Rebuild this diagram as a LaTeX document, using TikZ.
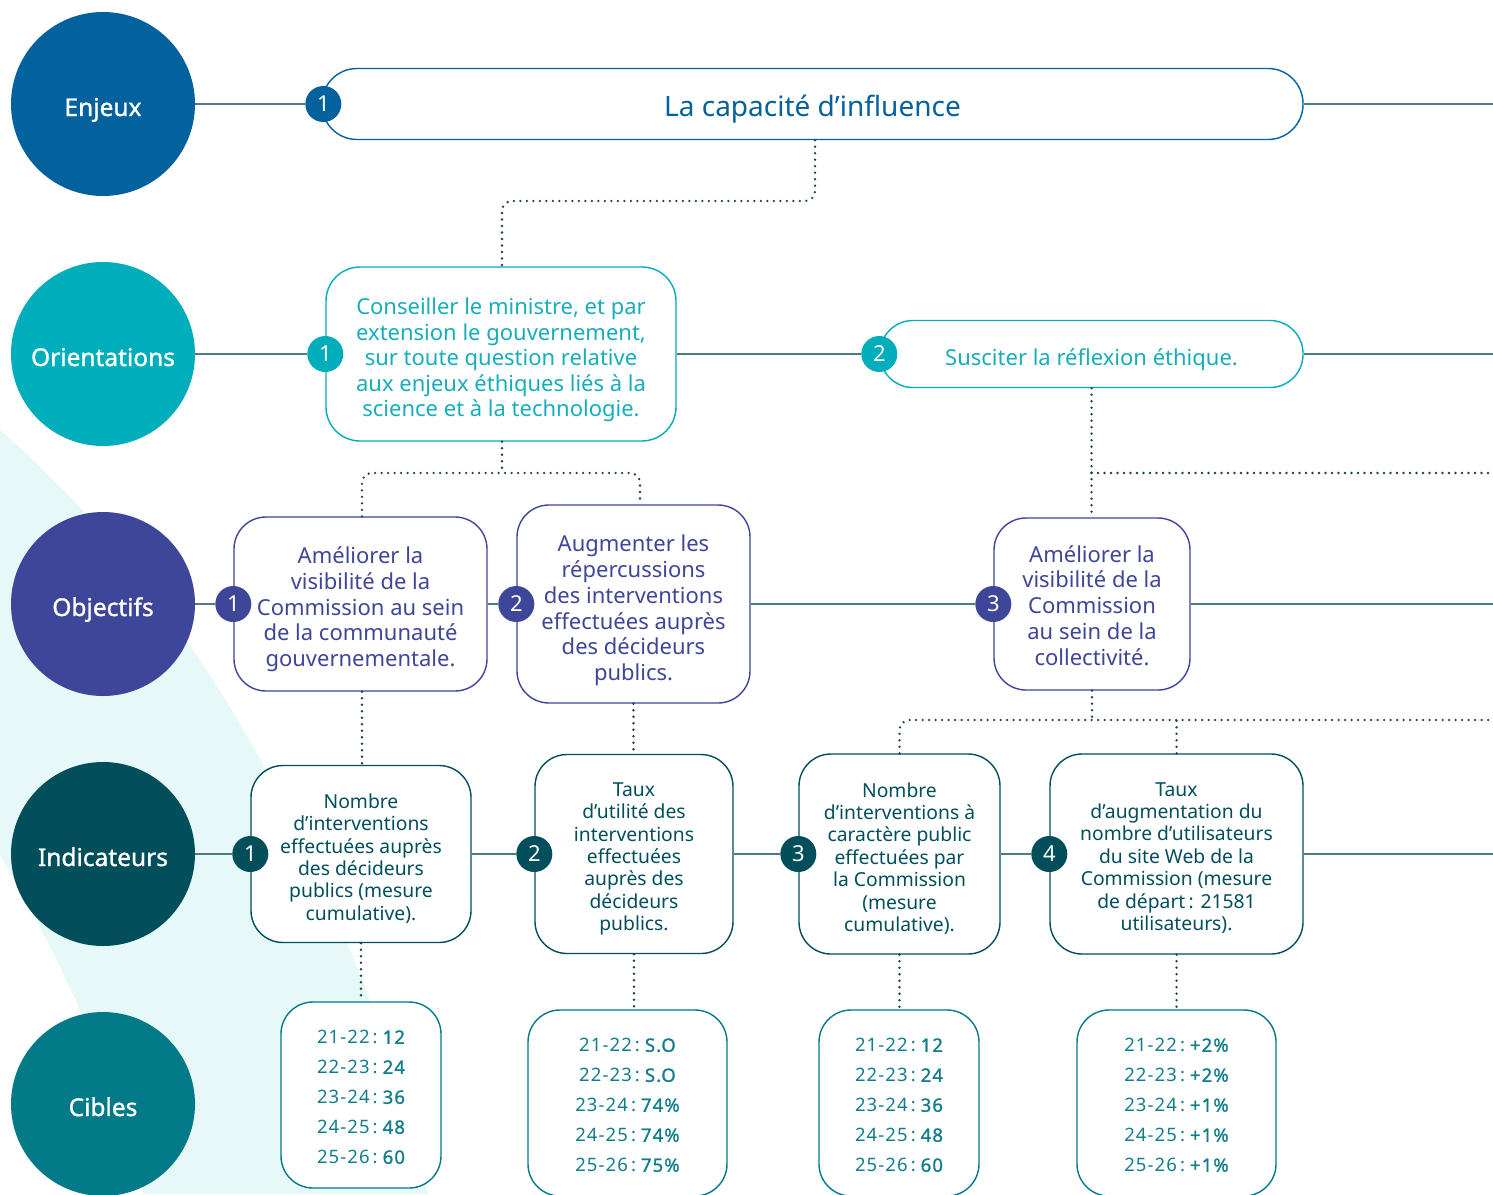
\documentclass[tikz,border=0pt]{standalone}
\usepackage{fontspec}
\setmainfont{Noto Sans}
\newfontfamily\medfont{Noto Sans}[FakeBold=1.2]
\newfontfamily\cibregfont{Noto Sans}[LetterSpace=6]
\newfontfamily\cibboldfont{Noto Sans}[FakeBold=1.2,LetterSpace=6]
\definecolor{cenj}{HTML}{03629E}
\definecolor{cori}{HTML}{00ADBB}
\definecolor{tori}{HTML}{16AEBB}
\definecolor{cobj}{HTML}{3E469A}
\definecolor{cind}{HTML}{024F5B}
\definecolor{ccib}{HTML}{027A88}
\definecolor{tcib}{HTML}{137E8B}
\definecolor{hline}{HTML}{4F7B80}
\definecolor{dotc}{HTML}{1B424B}
\definecolor{band}{HTML}{E6F8F8}
\newcommand\cibv[2]{#1\kern3pt:\kern5pt{\cibboldfont #2}}
\newcommand\topstrut[1]{\rule{0pt}{\dimexpr0.8em+#1pt\relax}}
\begin{document}
\begin{tikzpicture}[x=1pt,y=-1pt,
  cat/.style={circle,minimum size=184pt,inner sep=0pt,text=white,text height=24pt,text depth=0pt,font=\medfont\fontsize{24.5}{28}\selectfont},
  badge/.style={circle,minimum size=36pt,inner sep=0pt,text=white,font=\fontsize{22}{24}\selectfont},
  card/.style={draw,fill=white,line width=1.4pt,align=center,inner sep=0pt},
  enjfont/.style={font=\fontsize{28}{32}\selectfont},
  orifont/.style={font=\fontsize{22}{25.5}\selectfont},
  objfont/.style={font=\fontsize{22}{25.75}\selectfont},
  indfont/.style={font=\fontsize{19.3}{22.4}\selectfont},
  cibfont/.style={font=\cibregfont\fontsize{18.5}{30}\selectfont},
  conn/.style={draw=hline,line width=1.6pt},
  dotline/.style={draw=dotc,line width=2.6pt,line cap=round,dash pattern=on 0pt off 6.5pt,rounded corners=10pt},
]
\useasboundingbox (0,0) rectangle (1493,1194);
\clip (0,0) rectangle (1493,1194);
\fill[band] (0,430) .. controls (150,560) and (330,800) .. (428,1194) -- (143,1194) .. controls (110,1060) and (60,960) .. (0,855) -- cycle;
\coordinate (edge) at (1493,0);

% Row 1: Enjeux
\node[cat,fill=cenj] (cEnj) at (103,104) {Enjeux};
\node[card,draw=cenj,text=cenj,enjfont,minimum width=981pt,minimum height=71pt,rounded corners=35pt] (e1) at (812.5,104) {\topstrut{10}La capacité d’influence};
\node[badge,fill=cenj] (be1) at ([xshift=2pt]e1.west) {1};

% Row 2: Orientations
\node[cat,fill=cori] (cOri) at (103,354) {Orientations};
\node[card,draw=cori,text=tori,orifont,minimum width=350pt,minimum height=174pt,rounded corners=34pt] (o1) at (501,354) {\topstrut{11}Conseiller le ministre, et par\\extension le gouvernement,\\sur toute question relative\\aux enjeux éthiques liés à la\\science et à la technologie.};
\node[badge,fill=cori] (bo1) at (o1.west) {1};
\node[card,draw=cori,text=tori,orifont,minimum width=423pt,minimum height=67pt,rounded corners=33pt] (o2) at (1091.5,354) {\topstrut{11}Susciter la réflexion éthique.};
\node[badge,fill=cori] (bo2) at (o2.west) {2};

% Row 3: Objectifs
\node[cat,fill=cobj] (cObj) at (103,604) {Objectifs};
\node[card,draw=cobj,text=cobj,objfont,minimum width=253pt,minimum height=174pt,rounded corners=32pt] (b1) at (360.5,604) {\topstrut{10}Améliorer la\\visibilité de la\\Commission au sein\\de la communauté\\gouvernementale.};
\node[badge,fill=cobj] (bb1) at (b1.west) {1};
\node[card,draw=cobj,text=cobj,objfont,minimum width=233pt,minimum height=198pt,rounded corners=32pt] (b2) at (633.5,604) {\topstrut{12}Augmenter les\\répercussions\\des interventions\\effectuées auprès\\des décideurs\\publics.};
\node[badge,fill=cobj] (bb2) at (b2.west) {2};
\node[card,draw=cobj,text=cobj,objfont,minimum width=196pt,minimum height=172pt,rounded corners=32pt] (b3) at (1092,604) {\topstrut{2}Améliorer la\\visibilité de la\\Commission\\au sein de la\\collectivité.};
\node[badge,fill=cobj] (bb3) at (b3.west) {3};

% Row 4: Indicateurs
\node[cat,fill=cind] (cInd) at (103,854) {Indicateurs};
\node[card,draw=cind,text=cind,indfont,minimum width=220pt,minimum height=177pt,rounded corners=32pt] (i1) at (361,854) {\topstrut{8}Nombre\\d’interventions\\effectuées auprès\\des décideurs\\publics (mesure\\cumulative).};
\node[badge,fill=cind] (bi1) at (i1.west) {1};
\node[card,draw=cind,text=cind,indfont,minimum width=198pt,minimum height=199pt,rounded corners=32pt] (i2) at (634,854) {\topstrut{8}Taux\\d’utilité des\\interventions\\effectuées\\auprès des\\décideurs\\publics.};
\node[badge,fill=cind] (bi2) at (i2.west) {2};
\node[card,draw=cind,text=cind,indfont,minimum width=201pt,minimum height=200pt,rounded corners=32pt] (i3) at (899.5,854) {\topstrut{8}Nombre\\d’interventions à\\caractère public\\effectuées par\\la Commission\\(mesure\\cumulative).};
\node[badge,fill=cind] (bi3) at (i3.west) {3};
\node[card,draw=cind,text=cind,indfont,minimum width=253pt,minimum height=200pt,rounded corners=32pt] (i4) at (1176.5,854) {\topstrut{6}Taux\\d’augmentation du\\nombre d’utilisateurs\\du site Web de la\\Commission (mesure\\de départ\,: 21581\\utilisateurs).};
\node[badge,fill=cind] (bi4) at (i4.west) {4};

% Row 5: Cibles
\node[cat,fill=ccib] (cCib) at (103,1104) {Cibles};
\node[card,draw=ccib,text=tcib,cibfont,minimum width=160pt,minimum height=186pt,rounded corners=32pt] (t1) at (361,1095) {\topstrut{3}\cibv{21-22}{12}\\\cibv{22-23}{24}\\\cibv{23-24}{36}\\\cibv{24-25}{48}\\\cibv{25-26}{60}};
\node[card,draw=ccib,text=tcib,cibfont,minimum width=199pt,minimum height=186pt,rounded corners=32pt] (t2) at (627.5,1103) {\topstrut{3}\cibv{21-22}{S.O}\\\cibv{22-23}{S.O}\\\cibv{23-24}{74\%}\\\cibv{24-25}{74\%}\\\cibv{25-26}{75\%}};
\node[card,draw=ccib,text=tcib,cibfont,minimum width=160pt,minimum height=186pt,rounded corners=32pt] (t3) at (899,1103) {\topstrut{3}\cibv{21-22}{12}\\\cibv{22-23}{24}\\\cibv{23-24}{36}\\\cibv{24-25}{48}\\\cibv{25-26}{60}};
\node[card,draw=ccib,text=tcib,cibfont,minimum width=199pt,minimum height=186pt,rounded corners=32pt] (t4) at (1176.5,1103) {\topstrut{3}\cibv{21-22}{+2\%}\\\cibv{22-23}{+2\%}\\\cibv{23-24}{+1\%}\\\cibv{24-25}{+1\%}\\\cibv{25-26}{+1\%}};

% Horizontal connectors
\draw[conn] (cEnj) -- (be1);
\draw[conn] (e1.east) -- (e1.east -| edge);
\draw[conn] (cOri) -- (bo1);
\draw[conn] (o1.east) -- (bo2);
\draw[conn] (o2.east) -- (o2.east -| edge);
\draw[conn] (cObj) -- (bb1);
\draw[conn] (b1.east) -- (bb2);
\draw[conn] (b2.east) -- (bb3);
\draw[conn] (b3.east) -- (b3.east -| edge);
\draw[conn] (cInd) -- (bi1);
\draw[conn] (i1.east) -- (bi2);
\draw[conn] (i2.east) -- (bi3);
\draw[conn] (i3.east) -- (bi4);
\draw[conn] (i4.east) -- (i4.east -| edge);

% Dotted connectors
\coordinate (j1) at (502,201);
\draw[dotline] ([xshift=2.5pt]e1.south) |- (j1) -- (j1 |- o1.north);
\coordinate (j2) at (502,473);
\draw[dotline] (j2 |- o1.south) -- (j2);
\draw[dotline] ([xshift=1.5pt]b1.north) |- (j2) -| ([xshift=6.5pt]b2.north);
\coordinate (j3) at (o2.south |- j2);
\draw[dotline] (o2.south) -- (o2.south |- b3.north);
\draw[dotline] (j3) -- (j3 -| edge);
\draw[dotline] ([xshift=1.5pt]b1.south) -- ([xshift=1.5pt]b1.south |- i1.north);
\draw[dotline] (b2.south) -- (b2.south |- i2.north);
\coordinate (y720) at (0,720);
\coordinate (j6) at (b3.south |- y720);
\draw[dotline] (b3.south) -- (j6);
\draw[dotline] (i3.north) |- (j6) -- (j6 -| edge);
\draw[dotline] (i4.north) -- (i4.north |- j6);
\draw[dotline] (i1.south) -- (i1.south |- t1.north);
\draw[dotline] (i2.south) -- (i2.south |- t2.north);
\draw[dotline] (i3.south) -- (i3.south |- t3.north);
\draw[dotline] (i4.south) -- (i4.south |- t4.north);
\end{tikzpicture}
\end{document}
